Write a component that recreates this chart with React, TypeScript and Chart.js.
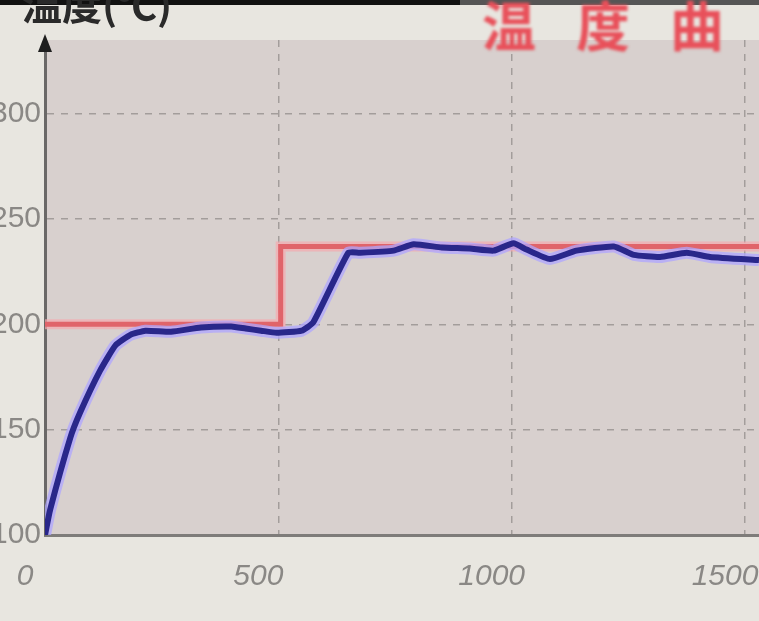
import React, { useEffect, useRef } from "react";
import Chart from "chart.js/auto";

// Measured temperature (blue)
const blueX = [0, 11, 54, 75, 118, 151, 183, 215, 270, 334, 399, 430, 463, 496, 550, 575, 650, 674, 747, 790, 850, 910, 961, 1004, 1032, 1082, 1139, 1219, 1262, 1318, 1375, 1425, 1530];
const blueY = [100, 112, 146, 158, 178, 190, 195, 197, 196.5, 198.5, 199, 198, 197, 196, 197, 201, 234, 234, 235, 238, 236.5, 236, 235, 238.5, 235.5, 231, 235, 237, 233, 232, 234, 232, 230.5];
// Set point (red)
const redX = [0, 505, 505, 1530];
const redY = [200, 200, 237, 237];

const xTicks = [0, 500, 1000, 1500];
const yTicks = [100, 150, 200, 250, 300];
const titleLeft = "温度(℃)";
const titleRight = "温度曲线";

export default function App() {
  const ref = useRef<HTMLCanvasElement>(null);
  useEffect(() => {
    if (!ref.current) return;
    const bluePts = blueX.map((x, i) => ({ x, y: blueY[i] }));
    const redPts = redX.map((x, i) => ({ x, y: redY[i] }));
    const bgPlugin = {
      id: "bgPlugin",
      beforeDraw(chart: any) {
        const { ctx, chartArea: a } = chart;
        ctx.save();
        ctx.fillStyle = "#d8d0ce";
        ctx.fillRect(a.left, a.top, a.right - a.left, a.bottom - a.top);
        ctx.restore();
      },
      afterDraw(chart: any) {
        const { ctx, chartArea: a } = chart;
        ctx.save();
        ctx.fillStyle = "#1e1e1e";
        ctx.beginPath();
        ctx.moveTo(a.left, a.top - 6);
        ctx.lineTo(a.left - 7, a.top + 12);
        ctx.lineTo(a.left + 7, a.top + 12);
        ctx.closePath();
        ctx.fill();
        ctx.restore();
      },
    };
    const chart = new Chart(ref.current, {
      type: "line",
      data: {
        datasets: [
          { data: bluePts, borderColor: "#29278a", borderWidth: 6, pointRadius: 0, tension: 0.15, fill: false },
          { data: bluePts, borderColor: "rgba(175,165,255,0.75)", borderWidth: 12, pointRadius: 0, tension: 0.15, fill: false },
          { data: redPts, borderColor: "#e0646a", borderWidth: 5, pointRadius: 0, tension: 0, fill: false },
          { data: redPts, borderColor: "rgba(245,170,175,0.7)", borderWidth: 10, pointRadius: 0, tension: 0, fill: false },
        ],
      },
      options: {
        animation: false,
        responsive: false,
        maintainAspectRatio: false,
        layout: { padding: { top: 40, left: 0, right: 0, bottom: 0 } },
        plugins: { legend: { display: false }, tooltip: { enabled: false } },
        scales: {
          x: {
            type: "linear",
            min: 0,
            max: 1530,
            afterFit(scale: any) { scale.height = 86; scale.paddingLeft = 0; scale.paddingRight = 0; },
            afterBuildTicks(scale: any) { scale.ticks = xTicks.map((v) => ({ value: v })); },
            ticks: {
              color: "#8a8885",
              font: { family: "Liberation Sans", size: 30, style: "italic" },
              padding: 24,
              labelOffset: -20,
              maxRotation: 0,
              callback: (v: any) => String(v),
            },
            grid: { color: "#a39d9b", lineWidth: 1.5, tickLength: 0, drawTicks: false },
            border: { display: true, color: "#7e7c7a", width: 3, dash: [7, 7] },
          },
          y: {
            type: "linear",
            min: 100,
            max: 335,
            afterFit(scale: any) { scale.width = 45; scale.paddingTop = 0; scale.paddingBottom = 0; },
            afterBuildTicks(scale: any) { scale.ticks = yTicks.map((v) => ({ value: v })); },
            ticks: {
              color: "#8a8885",
              font: { family: "Liberation Sans", size: 30 },
              padding: 4,
              callback: (v: any) => String(v),
            },
            grid: { color: "#a39d9b", lineWidth: 1.5, tickLength: 0, drawTicks: false },
            border: { display: true, color: "#6a6867", width: 3, dash: [7, 7] },
          },
        },
      },
      plugins: [bgPlugin],
    });
    return () => chart.destroy();
  }, []);

  return (
    <div style={{ position: "fixed", left: 0, top: 0, width: 759, height: 621, overflow: "hidden", background: "#e8e6e0" }}>
      <canvas ref={ref} width={759} height={621} style={{ position: "absolute", left: 0, top: 0, width: 759, height: 621 }} />
      <div style={{ position: "absolute", left: 0, top: 0, width: 460, height: 5, background: "#111" }} />
      <div style={{ position: "absolute", left: 460, top: 0, width: 299, height: 5, background: "#555" }} />
      <div style={{ position: "absolute", left: 22, top: -26, fontFamily: "Noto Sans CJK SC", fontSize: 40, fontWeight: 700, color: "#2a2a2a", whiteSpace: "nowrap" }}>{titleLeft}</div>
      <div style={{ position: "absolute", left: 482, top: -16, fontFamily: "Noto Sans CJK SC", fontSize: 54, fontWeight: 700, letterSpacing: 40, color: "#e8505a", whiteSpace: "nowrap", filter: "blur(1.5px)" }}>{titleRight}</div>
    </div>
  );
}
